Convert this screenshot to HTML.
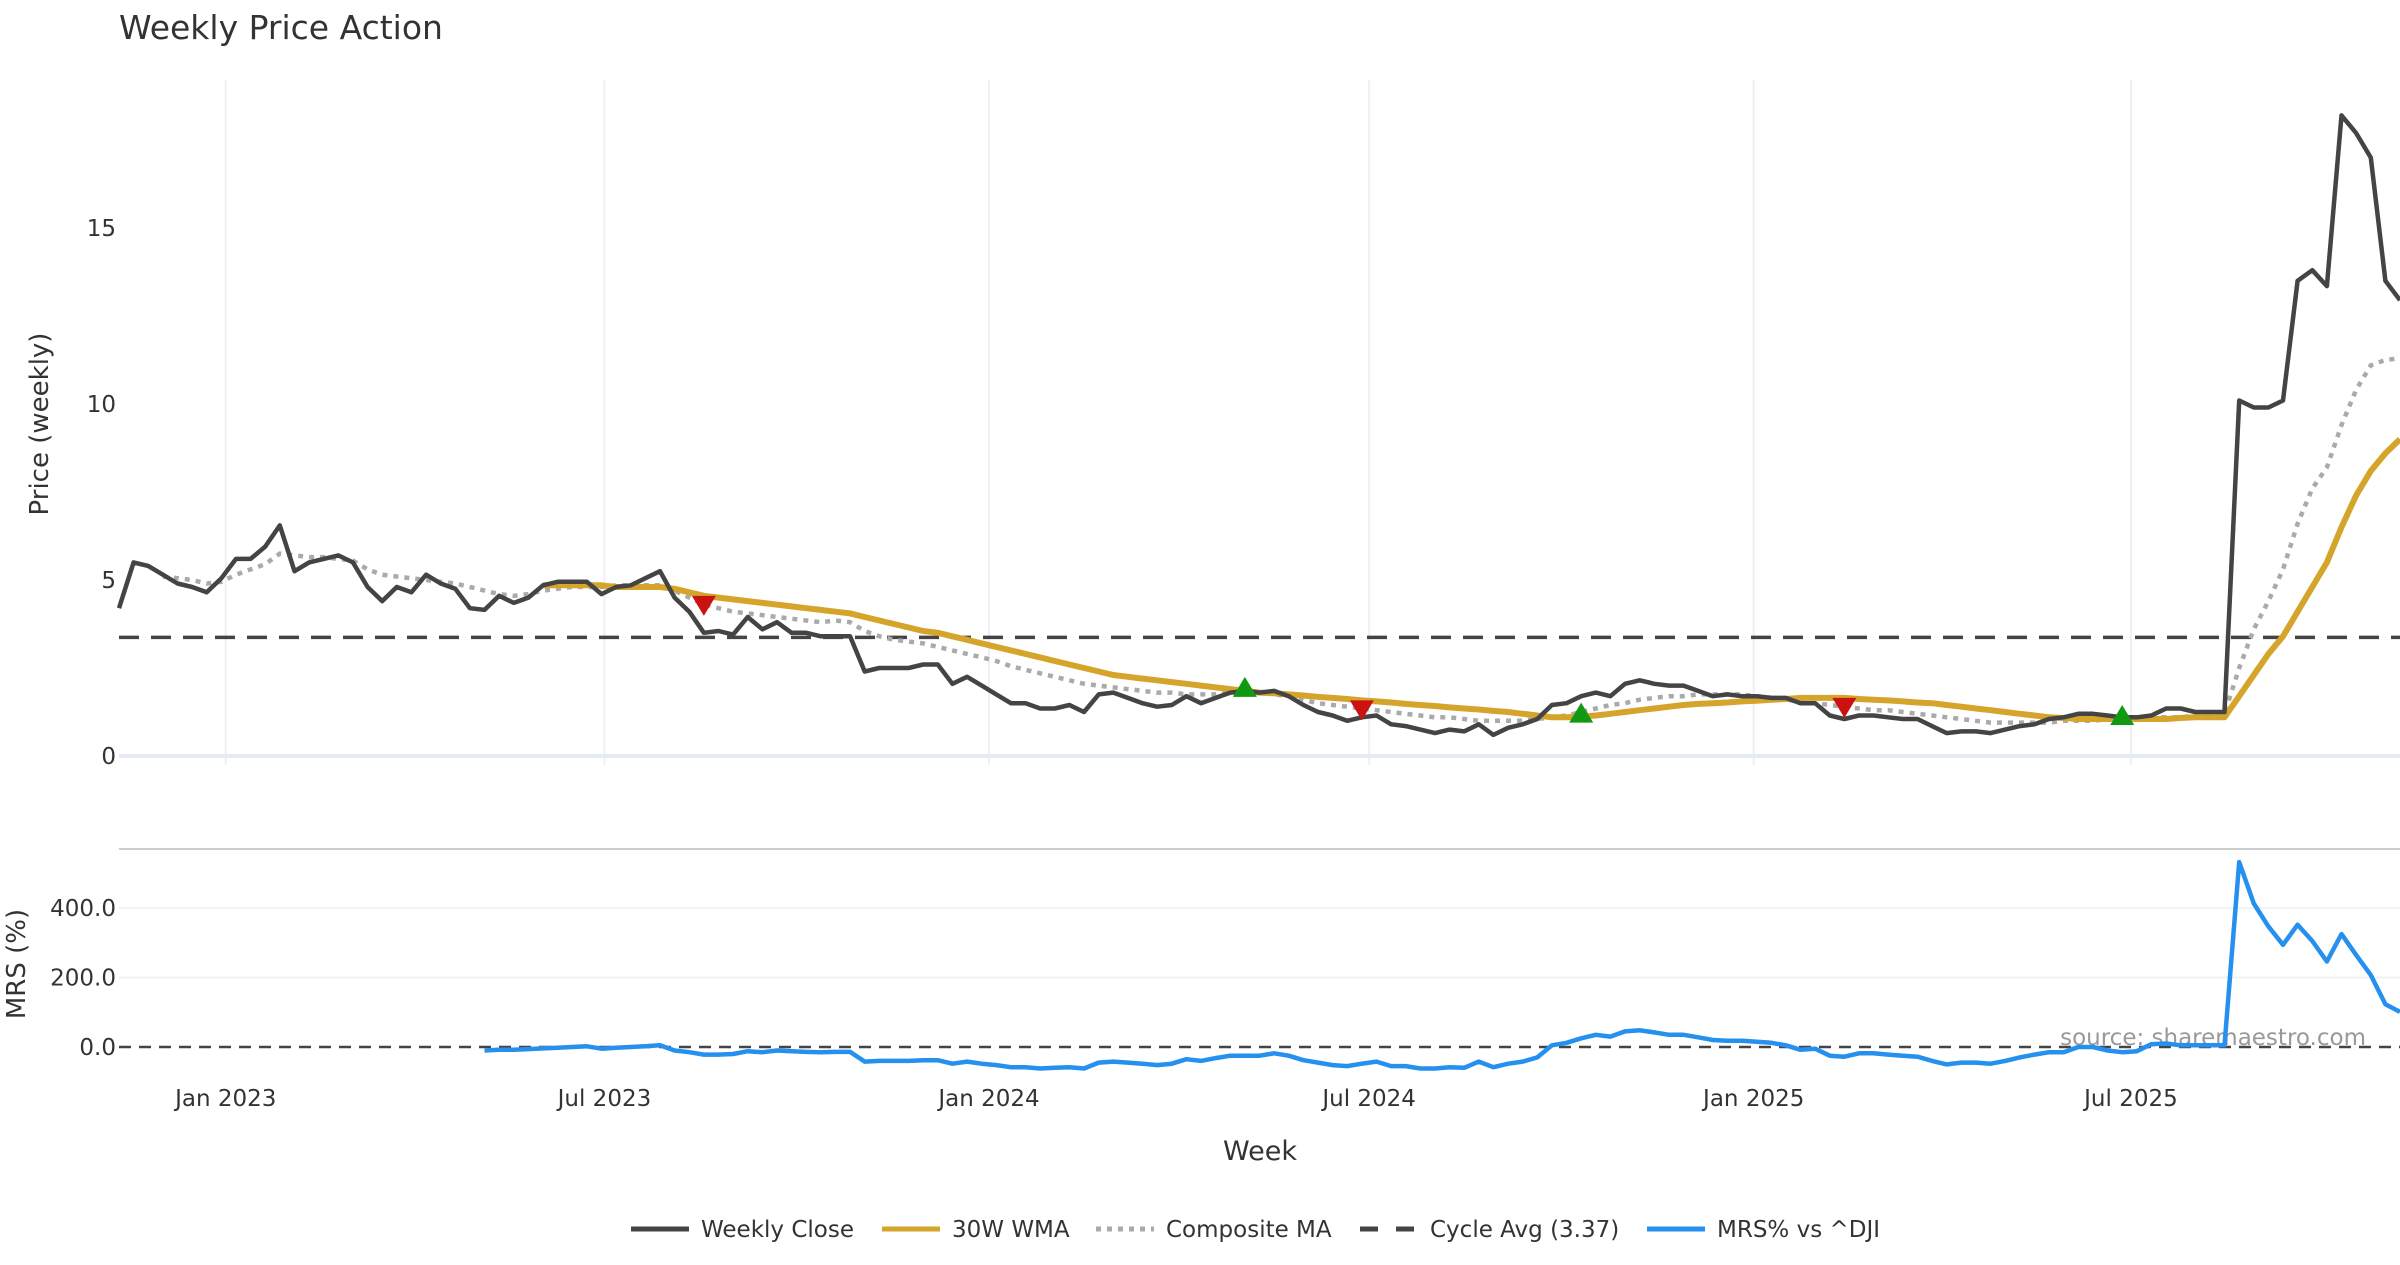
<!DOCTYPE html>
<html><head><meta charset="utf-8"><style>
html,body{margin:0;padding:0;background:#fff;}
svg text{font-family:"DejaVu Sans","Liberation Sans",sans-serif;}
</style></head><body>
<svg id="chart" width="2400" height="1260" viewBox="0 0 2400 1260" xmlns="http://www.w3.org/2000/svg">
<rect width="2400" height="1260" fill="#fff"/>
<text x="119" y="39" font-size="33" fill="#333">Weekly Price Action</text>
<text x="0" y="0" font-size="26" fill="#333" text-anchor="middle" transform="translate(48,424) rotate(-90)">Price (weekly)</text>
<text x="0" y="0" font-size="26" fill="#333" text-anchor="middle" transform="translate(25,964) rotate(-90)">MRS (%)</text>
<text x="1260" y="1160" font-size="27" fill="#333" text-anchor="middle">Week</text>
<text x="2366" y="1045" font-size="23" fill="#999" text-anchor="end">source: sharemaestro.com</text>
<line x1="119" y1="849" x2="2400" y2="849" stroke="#ccc" stroke-width="2"/>
<g id="grid"></g><g id="series"></g><g id="markers"></g>
<g id="legend"></g>
</svg>
<script>
const closeVals=[4.2,5.5,5.4,5.15,4.9,4.8,4.65,5.05,5.6,5.6,5.95,6.55,5.25,5.5,5.6,5.7,5.5,4.8,4.4,4.8,4.65,5.15,4.9,4.75,4.2,4.15,4.55,4.35,4.5,4.85,4.95,4.95,4.95,4.6,4.8,4.85,5.05,5.25,4.5,4.1,3.5,3.55,3.45,3.95,3.6,3.8,3.5,3.5,3.4,3.4,3.4,2.4,2.5,2.5,2.5,2.6,2.6,2.05,2.25,2.0,1.75,1.5,1.5,1.35,1.35,1.45,1.25,1.75,1.8,1.65,1.5,1.4,1.45,1.7,1.5,1.65,1.8,1.85,1.8,1.85,1.7,1.45,1.25,1.15,1.0,1.1,1.15,0.9,0.85,0.75,0.65,0.75,0.7,0.9,0.6,0.8,0.9,1.05,1.45,1.5,1.7,1.8,1.7,2.05,2.15,2.05,2.0,2.0,1.85,1.7,1.75,1.7,1.7,1.65,1.65,1.5,1.5,1.15,1.05,1.15,1.15,1.1,1.05,1.05,0.85,0.65,0.7,0.7,0.65,0.75,0.85,0.9,1.05,1.1,1.2,1.2,1.15,1.1,1.1,1.15,1.35,1.35,1.25,1.25,1.25,10.1,9.9,9.9,10.1,13.5,13.8,13.35,18.2,17.7,17.0,13.5,12.95];
const wmaStart=29;
const wmaVals=[4.85,4.85,4.85,4.85,4.85,4.8,4.8,4.8,4.8,4.75,4.65,4.55,4.5,4.45,4.4,4.35,4.3,4.25,4.2,4.15,4.1,4.05,3.95,3.85,3.75,3.65,3.55,3.5,3.4,3.3,3.2,3.1,3.0,2.9,2.8,2.7,2.6,2.5,2.4,2.3,2.25,2.2,2.15,2.1,2.05,2.0,1.95,1.9,1.85,1.8,1.78,1.75,1.72,1.68,1.65,1.62,1.58,1.55,1.52,1.48,1.45,1.42,1.38,1.35,1.32,1.28,1.25,1.2,1.15,1.1,1.1,1.12,1.15,1.2,1.25,1.3,1.35,1.4,1.45,1.48,1.5,1.52,1.55,1.57,1.6,1.62,1.65,1.65,1.65,1.65,1.62,1.6,1.58,1.55,1.52,1.5,1.45,1.4,1.35,1.3,1.25,1.2,1.15,1.1,1.08,1.05,1.05,1.05,1.05,1.05,1.05,1.05,1.08,1.1,1.1,1.1,1.7,2.3,2.9,3.4,4.1,4.8,5.5,6.5,7.4,8.1,8.6,9.0];
const compStart=3;
const compVals=[5.1,5.05,5.0,4.9,4.95,5.15,5.3,5.45,5.75,5.7,5.65,5.65,5.6,5.55,5.3,5.15,5.1,5.05,5.0,4.95,4.9,4.8,4.7,4.6,4.55,4.6,4.7,4.75,4.8,4.8,4.8,4.85,4.85,4.85,4.85,4.7,4.5,4.3,4.2,4.1,4.05,4.0,3.95,3.9,3.85,3.8,3.85,3.8,3.55,3.4,3.3,3.25,3.2,3.1,3.0,2.9,2.8,2.7,2.55,2.45,2.35,2.25,2.15,2.05,2.0,1.95,1.9,1.85,1.8,1.8,1.75,1.75,1.75,1.8,1.8,1.8,1.75,1.7,1.6,1.5,1.45,1.4,1.35,1.3,1.25,1.2,1.15,1.1,1.1,1.05,1.0,1.0,1.0,1.0,1.05,1.1,1.15,1.25,1.35,1.45,1.5,1.6,1.65,1.7,1.7,1.75,1.75,1.75,1.75,1.7,1.65,1.6,1.55,1.5,1.45,1.4,1.35,1.3,1.3,1.25,1.2,1.15,1.1,1.05,1.0,0.95,0.95,0.95,0.95,0.95,1.0,1.0,1.0,1.05,1.05,1.05,1.1,1.1,1.1,1.15,1.15,1.2,2.5,3.6,4.4,5.3,6.6,7.6,8.2,9.4,10.4,11.1,11.25,11.3];
const mrsStart=25;
const mrsVals=[-10,-8,-8,-6,-4,-2,0,2,-5,-2,0,2,5,-10,-15,-22,-22,-20,-12,-15,-10,-12,-14,-15,-14,-14,-42,-40,-40,-40,-38,-38,-48,-42,-48,-52,-58,-58,-62,-60,-58,-62,-45,-42,-45,-48,-52,-48,-35,-40,-32,-25,-25,-25,-18,-25,-38,-45,-52,-55,-48,-42,-55,-55,-62,-62,-58,-60,-42,-58,-48,-42,-30,5,12,25,35,30,45,48,42,35,35,28,20,18,18,15,12,5,-8,-5,-25,-28,-18,-18,-22,-25,-28,-40,-50,-45,-45,-48,-40,-30,-22,-15,-15,0,0,-10,-15,-12,8,10,5,5,5,5,532,413,347,294,352,305,246,325,265,207,123,101];
const cycleAvg=3.37;
const sellIdx=[40,85,118];
const buyIdx=[77,100,137];
const priceTicks=[0,5,10,15];
const mrsTicks=[0,200,400];
const dateTickLabels=["Jan 2023","Jul 2023","Jan 2024","Jul 2024","Jan 2025","Jul 2025"];
const dateTickWeeks=[7.3,33.2,59.5,85.5,111.8,137.6];

const NS="http://www.w3.org/2000/svg";
const X0=119,X1=2400,N=157;
function xs(i){return X0+i*(X1-X0)/(N-1);}
function yp(v){return 756-v*35.2;}
function ym(v){return 1047-v*0.3475;}
function mk(tag,attrs,parent){const e=document.createElementNS(NS,tag);for(const k in attrs)e.setAttribute(k,attrs[k]);parent.appendChild(e);return e;}
const grid=document.getElementById('grid'),ser=document.getElementById('series'),mkr=document.getElementById('markers'),leg=document.getElementById('legend');

dateTickWeeks.forEach((w,k)=>{
  const x=xs(w);
  const l=mk('line',{x1:x,y1:80,x2:x,y2:765,stroke:'#eef0f5','stroke-width':2},grid);
  
  
  const t=mk('text',{x:x,y:1106,'font-size':23,fill:'#333','text-anchor':'middle'},grid);
  t.textContent=dateTickLabels[k];
  
  
});
priceTicks.forEach(v=>{
  if(v===0){const z=mk('line',{x1:X0,y1:yp(0),x2:X1,y2:yp(0),stroke:'#e6e9f7','stroke-width':4},grid);
    }
  const t=mk('text',{x:116,y:yp(v)+8,'font-size':23,fill:'#333','text-anchor':'end'},grid);
  t.textContent=String(v);
  
  
});
mrsTicks.forEach(v=>{
  if(v>0){const g=mk('line',{x1:X0,y1:ym(v),x2:X1,y2:ym(v),stroke:'#f0f2f5','stroke-width':2},grid);
    }
  const t=mk('text',{x:116,y:ym(v)+8,'font-size':23,fill:'#333','text-anchor':'end'},grid);
  t.textContent=v.toFixed(1);
  
  
});
const mz=mk('line',{x1:X0,y1:ym(0),x2:X1,y2:ym(0),stroke:'#444','stroke-width':2.5,'stroke-dasharray':'12,8'},grid);



function path(vals,start,yf){return vals.map((v,k)=>(k?'L':'M')+xs(start+k).toFixed(1)+','+yf(v).toFixed(1)).join('');}
const cyc=mk('line',{x1:X0,y1:yp(cycleAvg),x2:X1,y2:yp(cycleAvg),stroke:'#444','stroke-width':3.5,'stroke-dasharray':'20,12'},ser);


const pc=mk('path',{d:path(compVals,compStart,yp),fill:'none',stroke:'#aaa','stroke-width':4.5,'stroke-dasharray':'5,6'},ser);


const pw=mk('path',{d:path(wmaVals,wmaStart,yp),fill:'none',stroke:'#d4a52a','stroke-width':6,'stroke-linejoin':'round'},ser);


const pcl=mk('path',{d:path(closeVals,0,yp),fill:'none',stroke:'#444','stroke-width':4.5,'stroke-linejoin':'round'},ser);


const pm=mk('path',{d:path(mrsVals,mrsStart,ym),fill:'none',stroke:'#2590ee','stroke-width':4.5,'stroke-linejoin':'round'},ser);



sellIdx.forEach(i=>{
  const x=xs(i),y=yp(wmaVals[i-wmaStart])+10;
  const t=mk('polygon',{points:`${x-12},${y-10} ${x+12},${y-10} ${x},${y+10}`,fill:'#cc1111'},mkr);
  
  
});
buyIdx.forEach(i=>{
  const x=xs(i),y=yp(wmaVals[i-wmaStart])-4;
  const t=mk('polygon',{points:`${x-12},${y+10} ${x+12},${y+10} ${x},${y-10}`,fill:'#119911'},mkr);
  
  
});

const legItems=[
 {label:'Weekly Close',x:631,stroke:'#444',dash:null},
 {label:'30W WMA',x:882,stroke:'#d4a52a',dash:null},
 {label:'Composite MA',x:1096,stroke:'#aaa',dash:'5,6'},
 {label:'Cycle Avg (3.37)',x:1360,stroke:'#444',dash:'18,18'},
 {label:'MRS% vs ^DJI',x:1647,stroke:'#2590ee',dash:null}];
legItems.forEach(it=>{
  const g=mk('g',{},leg);
  
  
  const a={x1:it.x,y1:1229,x2:it.x+58,y2:1229,stroke:it.stroke,'stroke-width':5};
  if(it.dash)a['stroke-dasharray']=it.dash;
  const l=mk('line',a,g);
  
  
  const t=mk('text',{x:it.x+70,y:1237,'font-size':23,fill:'#333'},g);
  t.textContent=it.label;
  
  
});
</script>
</body></html>
